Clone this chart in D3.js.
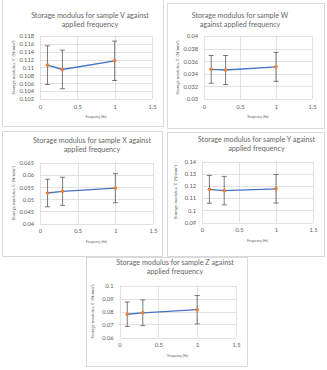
<!DOCTYPE html>
<html>
<head>
<meta charset="utf-8">
<script src="https://cdn.jsdelivr.net/npm/d3@7"></script>
<style>
  html, body { margin: 0; padding: 0; background: #fff; }
  svg { display: block; }
  text { font-family: Lato, "Open Sans", sans-serif; fill: #595959; }
</style>
</head>
<body>
<svg id="chart" width="327" height="370"></svg>
<script>
// Test frequencies (Hz)
const frequencies = [0.1, 0.3, 1];
const xTicks = [0, 0.5, 1, 1.5];

// Sample names
const samples = ["V", "W", "X", "Y", "Z"];

// Mean storage modulus E' (N/mm²) per sample at each frequency
const modulusV = [0.1106, 0.1095, 0.1117];
const modulusW = [0.0347, 0.0346, 0.0351];
const modulusX = [0.0526, 0.0533, 0.0546];
const modulusY = [0.1172, 0.1161, 0.1176];
const modulusZ = [0.0779, 0.0790, 0.0814];

// Error bar half-widths (N/mm²)
const errorV = [0.0049, 0.0049, 0.0050];
const errorW = [0.0022, 0.0023, 0.0023];
const errorX = [0.0057, 0.0058, 0.0060];
const errorY = [0.0114, 0.0117, 0.0117];
const errorZ = [0.0094, 0.0099, 0.0109];

// Y-axis tick labels per sample
const yTicksV = [0.102, 0.104, 0.106, 0.108, 0.11, 0.112, 0.114, 0.116, 0.118];
const yTicksW = [0.03, 0.032, 0.034, 0.036, 0.038, 0.04];
const yTicksX = [0.04, 0.045, 0.05, 0.055, 0.06, 0.065];
const yTicksY = [0.09, 0.1, 0.11, 0.12, 0.13, 0.14];
const yTicksZ = [0.06, 0.07, 0.08, 0.09, 0.1];

const titleLines = {
  V: ["Storage modulus for sample V against", "applied frequency"],
  W: ["Storage modulus for sample W", "against applied frequency"],
  X: ["Storage modulus for sample X against", "applied frequency"],
  Y: ["Storage modulus for sample Y against", "applied frequency"],
  Z: ["Storage modulus for sample Z against", "applied frequency"]
};

const seriesBySample = {
  V: { values: modulusV, errors: errorV, ticks: yTicksV },
  W: { values: modulusW, errors: errorW, ticks: yTicksW },
  X: { values: modulusX, errors: errorX, ticks: yTicksX },
  Y: { values: modulusY, errors: errorY, ticks: yTicksY },
  Z: { values: modulusZ, errors: errorZ, ticks: yTicksZ }
};

// Page layout of each chart frame: box, plot area, title centre
const layout = {
  V: { box: [2, -1, 161, 127], plot: [40, 36, 152, 99], tx: 90, ty: 15 },
  W: { box: [167, 3, 157, 125], plot: [204, 36, 312, 99], tx: 240, ty: 15 },
  X: { box: [2, 131, 160, 125], plot: [40, 163, 153, 223.5], tx: 92, ty: 140 },
  Y: { box: [167, 132, 157, 124], plot: [202, 161.5, 313, 222.5], tx: 256.5, ty: 139 },
  Z: { box: [86, 257, 161, 109], plot: [119.5, 285.5, 236, 337.5], tx: 175, ty: 262 }
};

const svg = d3.select("#chart");
const fmt = d => String(+d.toFixed(3));

samples.forEach(name => {
  const s = seriesBySample[name];
  const L = layout[name];
  const [bx, by, bw, bh] = L.box;
  const [pl, pt, pr, pb] = L.plot;
  const g = svg.append("g");

  // chart frame
  g.append("rect")
    .attr("x", bx + 0.5).attr("y", by + 0.5)
    .attr("width", bw).attr("height", bh)
    .attr("fill", "#fff").attr("stroke", "#d9d9d9").attr("stroke-width", 1);

  const x = d3.scaleLinear().domain([0, 1.5]).range([pl, pr]);
  const y = d3.scaleLinear().domain(d3.extent(s.ticks)).range([pb, pt]);

  // gridlines
  g.append("g").selectAll("line.h").data(s.ticks).join("line")
    .attr("x1", pl).attr("x2", pr)
    .attr("y1", d => Math.round(y(d)) + 0.5).attr("y2", d => Math.round(y(d)) + 0.5)
    .attr("stroke", "#d9d9d9").attr("stroke-width", 0.8);
  g.append("g").selectAll("line.v").data(xTicks).join("line")
    .attr("y1", pt).attr("y2", pb)
    .attr("x1", d => Math.round(x(d)) + 0.5).attr("x2", d => Math.round(x(d)) + 0.5)
    .attr("stroke", "#d9d9d9").attr("stroke-width", 0.8);

  // axes (labels only)
  const yAxis = d3.axisLeft(y).tickValues(s.ticks).tickFormat(fmt).tickSize(0).tickPadding(6);
  const ya = g.append("g").attr("transform", `translate(${pl},0)`).call(yAxis);
  const xAxis = d3.axisBottom(x).tickValues(xTicks).tickFormat(d => String(d)).tickSize(0).tickPadding(5.5);
  const xa = g.append("g").attr("transform", `translate(0,${pb})`).call(xAxis);
  [ya, xa].forEach(a => {
    a.select(".domain").remove();
    a.selectAll("text").attr("font-size", 5.7).attr("fill", "#595959")
      .style("font-family", "Lato, sans-serif");
  });

  // axis titles
  g.append("text")
    .attr("x", (pl + pr) / 2).attr("y", pb + 19)
    .attr("text-anchor", "middle").attr("font-size", 3.2)
    .text("Frequency (Hz)");
  g.append("text")
    .attr("transform", `translate(${pl - 25.5},${(pt + pb) / 2}) rotate(-90)`)
    .attr("text-anchor", "middle").attr("font-size", 4.3)
    .text("Storage modulus,  E' (N/mm²)");

  // chart title
  g.append("g").selectAll("text").data(titleLines[name]).join("text")
    .attr("x", L.tx).attr("y", (d, i) => L.ty + 2.5 + i * 9.5)
    .attr("text-anchor", "middle").attr("font-size", 7.2)
    .attr("fill", "#666")
    .style("fill", "#666")
    .text(d => d);

  const pts = frequencies.map((f, i) => ({ f, v: s.values[i], e: s.errors[i] }));

  // error bars
  const eb = g.append("g").attr("stroke", "#595959").attr("stroke-width", 0.8);
  eb.selectAll("line.stem").data(pts).join("line")
    .attr("x1", d => x(d.f)).attr("x2", d => x(d.f))
    .attr("y1", d => y(d.v - d.e)).attr("y2", d => y(d.v + d.e));
  eb.selectAll("line.top").data(pts).join("line")
    .attr("x1", d => x(d.f) - 2.5).attr("x2", d => x(d.f) + 2.5)
    .attr("y1", d => y(d.v + d.e)).attr("y2", d => y(d.v + d.e));
  eb.selectAll("line.bot").data(pts).join("line")
    .attr("x1", d => x(d.f) - 2.5).attr("x2", d => x(d.f) + 2.5)
    .attr("y1", d => y(d.v - d.e)).attr("y2", d => y(d.v - d.e));

  // series line
  g.append("path").datum(pts)
    .attr("fill", "none").attr("stroke", "#4472c4").attr("stroke-width", 1.3)
    .attr("d", d3.line().x(d => x(d.f)).y(d => y(d.v)));

  // markers
  g.append("g").selectAll("circle").data(pts).join("circle")
    .attr("cx", d => x(d.f)).attr("cy", d => y(d.v)).attr("r", 1.8)
    .attr("fill", "#ed7d31");
});
</script>
</body>
</html>
